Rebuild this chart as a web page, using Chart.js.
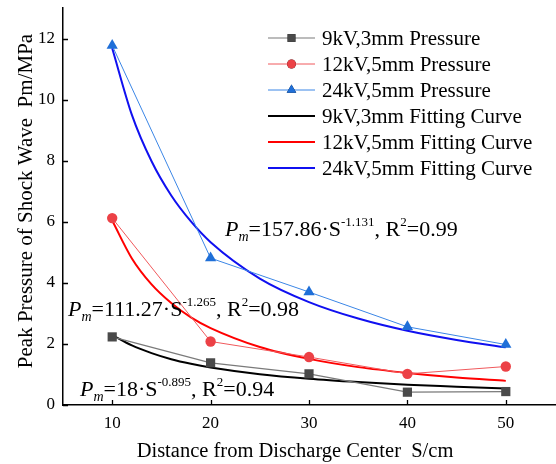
<!DOCTYPE html>
<html>
<head>
<meta charset="utf-8">
<script src="https://cdn.jsdelivr.net/npm/chart.js@4.4.1/dist/chart.umd.min.js"></script>
<style>
  html, body { margin: 0; padding: 0; background: #fff; }
  canvas { display: block; }
</style>
</head>
<body>
<canvas id="grafica" width="556" height="464"></canvas>
<script>
// distances (cm)
const distancias = [10, 20, 30, 40, 50];
// measured peak pressure (MPa)
const p9kV = [2.23, 1.38, 1.02, 0.42, 0.44];
const p12kV = [6.12, 2.08, 1.57, 1.02, 1.26];
const p24kV = [11.77, 4.81, 3.70, 2.56, 1.98];

// fitting curves
const distFit = [10, 12, 14, 16, 18, 20, 25, 30, 35, 40, 45, 50];
const fit9kV = [2.29, 1.95, 1.70, 1.50, 1.35, 1.23, 1.01, 0.86, 0.75, 0.66, 0.60, 0.54];
const fit12kV = [6.04, 4.80, 3.95, 3.34, 2.87, 2.52, 1.90, 1.51, 1.24, 1.05, 0.90, 0.79];
const fit24kV = [11.68, 9.50, 7.98, 6.86, 6.01, 5.33, 4.14, 3.37, 2.83, 2.43, 2.13, 1.89];

const xTicks = [10, 20, 30, 40, 50];
const yTicks = [0, 2, 4, 6, 8, 10, 12];

const etiquetas = [
  "9kV,3mm Pressure", "12kV,5mm Pressure", "24kV,5mm Pressure",
  "9kV,3mm Fitting Curve", "12kV,5mm Fitting Curve", "24kV,5mm Fitting Curve"
];

const SERIF = "'Liberation Serif', 'Times New Roman', serif";

const puntos = (xs, ys) => xs.map((x, i) => ({ x: x, y: ys[i] }));

// formula labels: [x, baseline y, coef, exponent, r2]
const formulas = [
  [225, 236, "157.86", "-1.131", "0.99"],
  [68, 316, "111.27", "-1.265", "0.98"],
  [80, 396, "18", "-0.895", "0.94"]
];

const dibujarFormula = (ctx, f) => {
  let x = f[0];
  const y = f[1];
  const run = (txt, font, dy) => {
    ctx.font = font;
    ctx.fillText(txt, x, y + dy);
    x += ctx.measureText(txt).width;
  };
  ctx.fillStyle = '#000';
  ctx.textAlign = 'left';
  ctx.textBaseline = 'alphabetic';
  run("P", "italic 22px " + SERIF, 0);
  run("m", "italic 14px " + SERIF, 5);
  run("=" + f[2] + "\u00B7S", "22px " + SERIF, 0);
  run(f[3], "13px " + SERIF, -10);
  run(", R", "22px " + SERIF, 0);
  run("2", "13px " + SERIF, -10);
  run("=" + f[4], "22px " + SERIF, 0);
};

const extras = {
  id: 'extras',
  afterDraw(chart) {
    const ctx = chart.ctx;
    const xs = chart.scales.x, ys = chart.scales.y;
    const area = chart.chartArea;
    ctx.save();
    // inward tick marks
    ctx.strokeStyle = '#000';
    ctx.lineWidth = 1.3;
    ctx.beginPath();
    xTicks.forEach(v => {
      const px = Math.round(xs.getPixelForValue(v)) + 0.5;
      ctx.moveTo(px, area.bottom);
      ctx.lineTo(px, area.bottom - 5);
    });
    yTicks.forEach(v => {
      const py = Math.round(ys.getPixelForValue(v)) + 0.5;
      ctx.moveTo(area.left, py);
      ctx.lineTo(area.left + 5, py);
    });
    ctx.stroke();

    // axis titles
    ctx.fillStyle = '#000';
    ctx.textAlign = 'center';
    ctx.textBaseline = 'alphabetic';
    ctx.font = "20.5px " + SERIF;
    ctx.fillText("Distance from Discharge Center  S/cm", 295, 457);
    ctx.save();
    ctx.translate(32, 201);
    ctx.rotate(-Math.PI / 2);
    ctx.font = "21px " + SERIF;
    ctx.fillText("Peak Pressure of Shock Wave  Pm/MPa", 0, 0);
    ctx.restore();

    // legend
    const lx = 268, lw = 47, ty0 = 38, paso = 26;
    chart.data.datasets.forEach((ds, i) => {
      const yy = ty0 + i * paso;
      ctx.strokeStyle = ds.borderColor;
      ctx.lineWidth = ds.borderWidth;
      ctx.beginPath();
      ctx.moveTo(lx, yy);
      ctx.lineTo(lx + lw, yy);
      ctx.stroke();
      if (ds.pointRadius > 0) {
        Chart.helpers.drawPoint(ctx, {
          pointStyle: ds.pointStyle,
          radius: ds.pointRadius * 0.85,
          borderWidth: 0
        }, lx + lw / 2, yy);
        ctx.fillStyle = ds.pointBackgroundColor;
        ctx.fill();
      }
      ctx.fillStyle = '#000';
      ctx.font = "21px " + SERIF;
      ctx.textAlign = 'left';
      ctx.textBaseline = 'middle';
      ctx.fillText(etiquetas[i], lx + lw + 7, yy + 1);
    });

    formulas.forEach(f => dibujarFormula(ctx, f));
    ctx.restore();
  }
};

const grafica = document.getElementById('grafica');
const myChart = new Chart(grafica, {
  type: 'line',
  data: {
    datasets: [
      {
        label: etiquetas[0], data: puntos(distancias, p9kV),
        borderColor: '#7a7a7a', borderWidth: 1.2,
        pointStyle: 'rect', pointRadius: 6.5,
        pointBackgroundColor: '#4a4a4a', pointBorderWidth: 0, order: 1
      },
      {
        label: etiquetas[1], data: puntos(distancias, p12kV),
        borderColor: '#f0595c', borderWidth: 1,
        pointStyle: 'circle', pointRadius: 5.2,
        pointBackgroundColor: '#ec4146', pointBorderWidth: 0, order: 1
      },
      {
        label: etiquetas[2], data: puntos(distancias, p24kV),
        borderColor: '#3b86e6', borderWidth: 1,
        pointStyle: 'triangle', pointRadius: 6.5,
        pointBackgroundColor: '#1f6fd8', pointBorderWidth: 0, order: 1
      },
      {
        label: etiquetas[3], data: puntos(distFit, fit9kV),
        borderColor: '#000000', borderWidth: 2,
        pointRadius: 0, cubicInterpolationMode: 'monotone', order: 2
      },
      {
        label: etiquetas[4], data: puntos(distFit, fit12kV),
        borderColor: '#ff0000', borderWidth: 2,
        pointRadius: 0, cubicInterpolationMode: 'monotone', order: 2
      },
      {
        label: etiquetas[5], data: puntos(distFit, fit24kV),
        borderColor: '#1010f0', borderWidth: 2,
        pointRadius: 0, cubicInterpolationMode: 'monotone', order: 2
      }
    ]
  },
  options: {
    responsive: false,
    animation: false,
    layout: { autoPadding: false, padding: { top: 8, right: 1, left: 0, bottom: 0 } },
    plugins: {
      legend: { display: false },
      tooltip: { enabled: false }
    },
    scales: {
      x: {
        type: 'linear', min: 5, max: 55,
        afterBuildTicks: s => { s.ticks = xTicks.map(v => ({ value: v })); },
        afterFit: s => { s.height = 59; s.paddingLeft = 0; s.paddingRight = 0; },
        grid: { display: false, drawTicks: false, tickLength: 0 },
        border: { display: true, color: '#000', width: 1.5 },
        ticks: { color: '#000', padding: 8, font: { family: SERIF, size: 17 } }
      },
      y: {
        type: 'linear', min: 0, max: 13,
        afterBuildTicks: s => { s.ticks = yTicks.map(v => ({ value: v })); },
        afterFit: s => { s.width = 63; s.paddingTop = 0; s.paddingBottom = 0; },
        grid: { display: false, drawTicks: false, tickLength: 0 },
        border: { display: true, color: '#000', width: 1.5 },
        ticks: { color: '#000', padding: 8, font: { family: SERIF, size: 17 } }
      }
    }
  },
  plugins: [extras]
});
</script>
</body>
</html>
